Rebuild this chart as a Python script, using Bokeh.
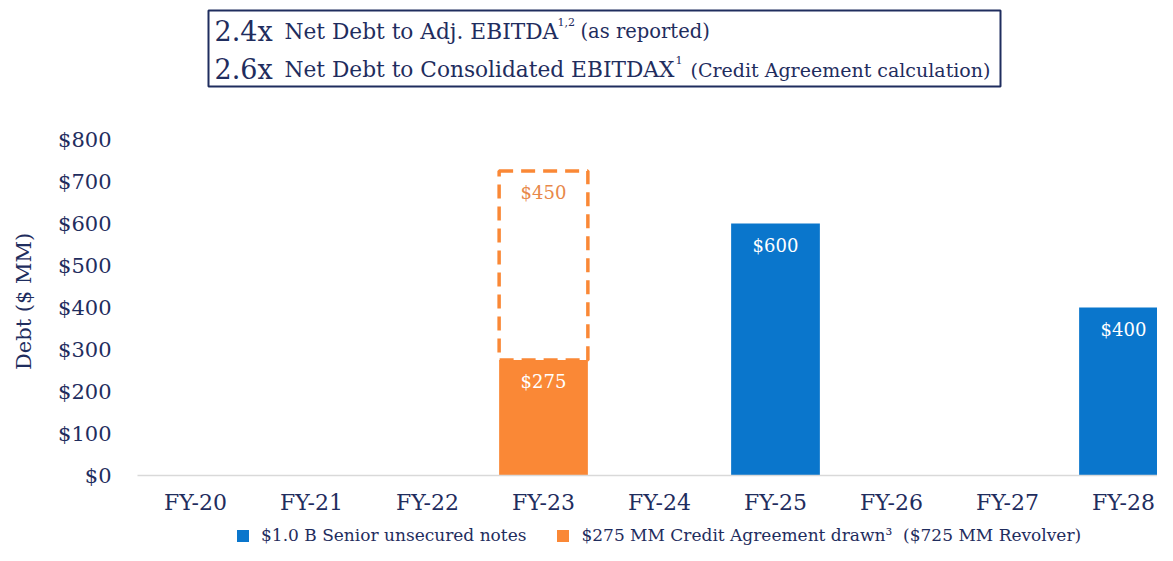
from bokeh.plotting import figure
from bokeh.layouts import column
from bokeh.models import (ColumnDataSource, Range1d, FixedTicker, Label, BoxAnnotation,
                          Legend, LegendItem, CustomJSTickFormatter, Grid)
from bokeh.core.properties import value
from bokeh.embed import file_html
from bokeh.resources import INLINE

# ---- data ----
categories = ["FY-20", "FY-21", "FY-22", "FY-23", "FY-24", "FY-25", "FY-26", "FY-27", "FY-28"]
senior_notes = [0, 0, 0, 0, 0, 600, 0, 0, 400]
credit_drawn = [0, 0, 0, 275, 0, 0, 0, 0, 0]
revolver_undrawn = [0, 0, 0, 450, 0, 0, 0, 0, 0]
y_ticks = [0, 100, 200, 300, 400, 500, 600, 700, 800]
legend_labels = ["$1.0 B Senior unsecured notes",
                 "$275 MM Credit Agreement drawn\u00b3  ($725 MM Revolver)"]

NAVY = "#1F2D5E"
BLUE = "#0A76CC"
ORANGE = "#FA8836"
FONT = "DejaVu Serif"

xs = list(range(len(categories)))

# layout constants (canvas pixels)
PX_PER_CAT = 116.0
PX_PER_UNIT = 0.42
FRAME_LEFT = 137
FRAME_BOTTOM = 475
W = 1157
H1, H2 = 520, 25
frame_w = W - FRAME_LEFT

def dx(px):
    return -0.5 + (px - FRAME_LEFT) / PX_PER_CAT

def dy(py):
    return (FRAME_BOTTOM - py) / PX_PER_UNIT

p = figure(width=W, height=H1, output_backend="svg", toolbar_location=None,
           x_range=Range1d(-0.5, -0.5 + frame_w / PX_PER_CAT),
           y_range=Range1d(0, FRAME_BOTTOM / PX_PER_UNIT),
           min_border_left=FRAME_LEFT, min_border_right=0,
           min_border_top=0, min_border_bottom=H1 - FRAME_BOTTOM)
p.outline_line_color = None
p.xgrid.visible = False
p.ygrid.visible = False

# bars
src_n = ColumnDataSource(dict(x=[x for x, v in zip(xs, senior_notes) if v > 0],
                              top=[v for v in senior_notes if v > 0]))
src_d = ColumnDataSource(dict(x=[x for x, v in zip(xs, credit_drawn) if v > 0],
                              top=[v for v in credit_drawn if v > 0]))
und_x = [x for x, v in zip(xs, revolver_undrawn) if v > 0]
und_b = [credit_drawn[x] for x in und_x]
und_t = [credit_drawn[x] + revolver_undrawn[x] for x in und_x]
src_u = ColumnDataSource(dict(x=und_x, bottom=und_b, top=und_t))

BW = 0.765
p.vbar(x="x", bottom="bottom", top="top", width=BW, source=src_u,
       fill_color=None, line_color=ORANGE, line_width=3.5, line_dash="14 8")
p.vbar(x="x", top="top", width=BW, source=src_n, fill_color=BLUE, line_color=None)
p.vbar(x="x", top="top", width=BW, source=src_d, fill_color=ORANGE, line_color=None)

# value labels
lab_n = ColumnDataSource(dict(x=src_n.data["x"], y=src_n.data["top"],
                              t=["$%d" % v for v in src_n.data["top"]]))
lab_d = ColumnDataSource(dict(x=src_d.data["x"], y=src_d.data["top"],
                              t=["$%d" % v for v in src_d.data["top"]]))
lab_u = ColumnDataSource(dict(x=und_x, y=und_t,
                              t=["$%d" % revolver_undrawn[x] for x in und_x]))
for s, c in [(lab_n, "white"), (lab_d, "white"), (lab_u, "#E8884A")]:
    p.text(x="x", y="y", text="t", source=s, text_align="center", text_baseline="top",
           y_offset=11, text_color=c, text_font=value(FONT), text_font_size="18px")

# axes
p.yaxis.ticker = FixedTicker(ticks=y_ticks)
p.yaxis.formatter = CustomJSTickFormatter(code="return '$' + tick;")
p.yaxis.axis_line_color = None
p.yaxis.major_tick_line_color = None
p.yaxis.minor_tick_line_color = None
p.yaxis.major_label_text_font = FONT
p.yaxis.major_label_text_font_size = "21px"
p.yaxis.major_label_text_color = NAVY
p.yaxis.major_label_standoff = 20
# trailing no-break spaces move the rotated title down, as in the reference
p.yaxis.axis_label = "Debt ($ MM)" + "\u00a0" * 19
p.yaxis.axis_label_text_font = FONT
p.yaxis.axis_label_text_font_size = "21px"
p.yaxis.axis_label_text_font_style = "normal"
p.yaxis.axis_label_text_color = NAVY
p.yaxis.axis_label_standoff = 19

p.xaxis.ticker = FixedTicker(ticks=xs)
p.xaxis.major_label_overrides = {x: c for x, c in zip(xs, categories)}
p.xaxis.axis_line_color = "#D9D9D9"
p.xaxis.axis_line_width = 1.5
p.xaxis.major_tick_line_color = None
p.xaxis.minor_tick_line_color = None
p.xaxis.major_label_text_font = FONT
p.xaxis.major_label_text_font_size = "22px"
p.xaxis.major_label_text_color = NAVY
p.xaxis.major_label_standoff = 8

# top summary box
p.add_layout(BoxAnnotation(left=dx(208), right=dx(1000), top=dy(10), bottom=dy(86),
                           fill_color=None, line_color=NAVY, line_alpha=1.0, line_width=2))

def lab(text, px, py, size):
    p.add_layout(Label(x=dx(px), y=dy(py), text=text, text_font=FONT, text_font_size=size,
                       text_color=NAVY, text_baseline="alphabetic", text_align="left"))

SHIFT = -10
lab("2.4x", 214, 41 + SHIFT, "27px")
lab("Net Debt to Adj. EBITDA", 284, 41 + SHIFT, "21.7px")
lab("1,2", 557, 31 + SHIFT, "11px")
lab("(as reported)", 580, 41 + SHIFT, "19.5px")
lab("2.6x", 214, 79 + SHIFT, "27px")
lab("Net Debt to Consolidated EBITDAX", 284, 79 + SHIFT, "21.7px")
lab("1", 675, 69 + SHIFT, "11px")
lab("(Credit Agreement calculation)", 690, 79 + SHIFT, "19px")

# legend strip
p2 = figure(width=W, height=H2, output_backend="svg", toolbar_location=None,
            x_range=Range1d(0, 1), y_range=Range1d(0, 1),
            x_axis_location=None, y_axis_location=None,
            min_border_left=FRAME_LEFT, min_border_right=0, min_border_top=0, min_border_bottom=0)
p2.outline_line_color = None
p2.outline_line_alpha = 0
p2.background_fill_color = None
p2.border_fill_color = None
p2.grid.visible = False
p2.center = [c for c in p2.center if not isinstance(c, Grid)]
# zero-height proxies: they only supply the legend swatches
g1 = p2.vbar(x=[0.5], top=[0], width=0.0, fill_color=BLUE, line_color=None)
g2 = p2.vbar(x=[0.5], top=[0], width=0.0, fill_color=ORANGE, line_color=None)
legend = Legend(items=[LegendItem(label=legend_labels[0], renderers=[g1]),
                       LegendItem(label=legend_labels[1], renderers=[g2])],
                orientation="horizontal", location=(237 - 2 - FRAME_LEFT, 0),
                label_text_font=FONT, label_text_font_size="17px", label_text_color=NAVY,
                glyph_width=15, glyph_height=15, label_standoff=11, spacing=29,
                border_line_color=None, background_fill_alpha=0, padding=2, margin=0)
p2.add_layout(legend, "center")

open("out.html", "w").write(file_html(column(p, p2, spacing=0), INLINE))
